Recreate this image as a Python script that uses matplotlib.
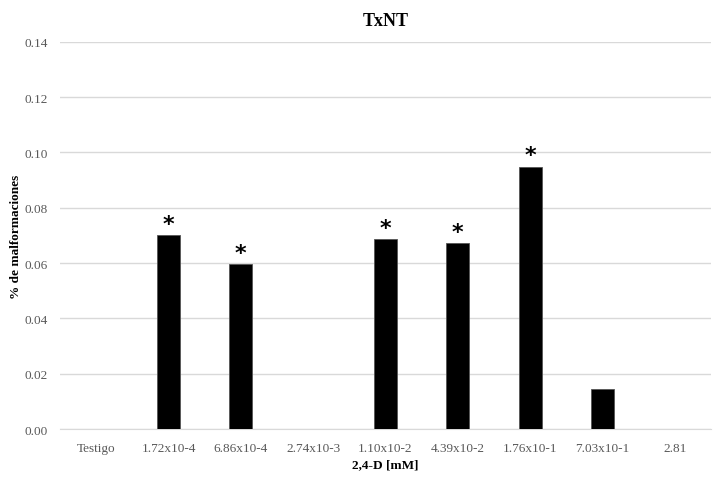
import matplotlib.pyplot as plt

# datos
categorias = ['Testigo', '1.72x10-4', '6.86x10-4', '2.74x10-3', '1.10x10-2',
              '4.39x10-2', '1.76x10-1', '7.03x10-1', '2.81']
valores = [0.0, 0.0702, 0.0598, 0.0, 0.0687, 0.0673, 0.0949, 0.0145, 0.0]
significativo = [False, True, True, False, True, True, True, False, False]
yticks = [0.00, 0.02, 0.04, 0.06, 0.08, 0.10, 0.12, 0.14]

plt.rcParams['font.family'] = ['Liberation Serif', 'DejaVu Serif']

fig = plt.figure(figsize=(7.17, 4.81), dpi=100)
ax = fig.add_axes([0.0837, 0.106, 0.908, 0.805])

x = range(len(categorias))
bars = ax.bar(x, valores, width=0.32, color='black', edgecolor='#555555', linewidth=0.6, zorder=3)

# asteriscos sobre las barras significativas
for xi, v, s in zip(x, valores, significativo):
    if s:
        ax.annotate('*', (xi, v), xytext=(0, 8), textcoords='offset points',
                    ha='center', va='center', fontsize=16, fontweight='bold',
                    family='DejaVu Sans')

ax.set_xlim(-0.5, len(categorias) - 0.5)
ax.set_ylim(0, 0.14)
ax.set_yticks(yticks)
ax.set_yticklabels([f'{t:.2f}' for t in yticks])
ax.set_xticks(list(x))
ax.set_xticklabels(categorias)
ax.tick_params(axis='both', length=0, labelsize=9.5, colors='#595959')
ax.tick_params(axis='x', pad=9)
ax.tick_params(axis='y', pad=9)

ax.grid(axis='y', color='#d9d9d9', linewidth=1, zorder=0)
ax.set_axisbelow(True)
for lado in ['top', 'right', 'left']:
    ax.spines[lado].set_visible(False)
ax.spines['bottom'].set_color('#d9d9d9')

ax.set_title('TxNT', fontsize=13, fontweight='bold', pad=12)
ax.set_xlabel('2,4-D [mM]', fontsize=9.5, fontweight='bold', labelpad=3)
ax.set_ylabel('% de malformaciones', fontsize=9.5, fontweight='bold')
ax.yaxis.set_label_coords(-0.058, 0.5)

plt.savefig('out.png', dpi=100)
